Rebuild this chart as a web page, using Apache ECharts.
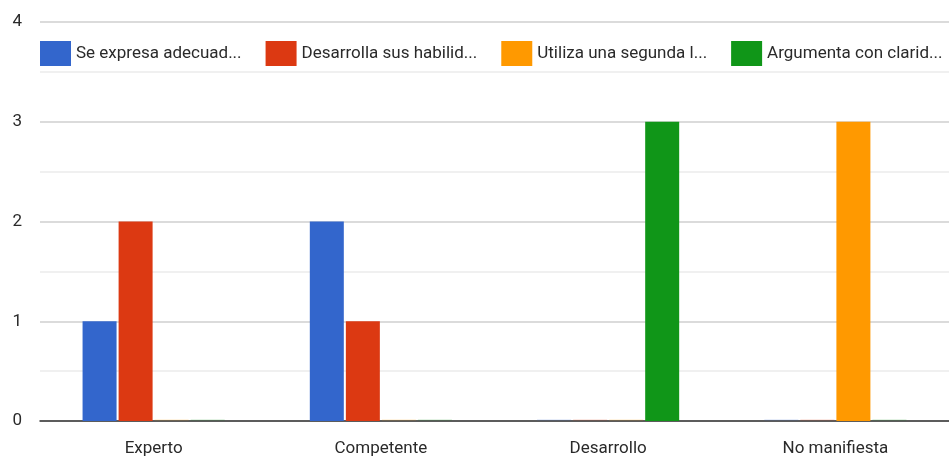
<!DOCTYPE html>
<html>
<head>
<meta charset="utf-8">
<script src="https://cdn.jsdelivr.net/npm/echarts@6/dist/echarts.min.js"></script>
<style>
html,body{margin:0;padding:0;background:#fff;}
#chart{width:949px;height:461px;}
</style>
</head>
<body>
<div id="chart"></div>
<script>
const categories = ['Experto', 'Competente', 'Desarrollo', 'No manifiesta'];
const seriesNames = ['Se expresa adecuad...', 'Desarrolla sus habilid...', 'Utiliza una segunda l...', 'Argumenta con clarid...'];
const seExpresa = [1, 2, 0, 0];
const desarrolla = [2, 1, 0, 0];
const utiliza = [0, 0, 0, 3];
const argumenta = [0, 0, 3, 0];
const colors = ['#3366cc', '#dc3912', '#ff9900', '#109618'];
const yTicks = [0, 1, 2, 3, 4];

const ordered = [seExpresa, desarrolla, utiliza, argumenta];

const chart = echarts.init(document.getElementById('chart'), null, {renderer: 'canvas'});
const font = 'Roboto, sans-serif';
chart.setOption({
  animation: false,
  color: colors,
  textStyle: {fontFamily: font},
  legend: {
    left: 35,
    top: 36,
    width: 910,
    itemWidth: 31,
    itemHeight: 25,
    itemGap: 24,
    icon: 'rect',
    textStyle: {fontSize: 17, color: '#2a2a2a', fontFamily: font},
    data: seriesNames
  },
  grid: {left: 40, right: -8, top: 22, bottom: 40, containLabel: false},
  xAxis: {
    type: 'category',
    data: categories,
    axisTick: {show: false},
    axisLine: {lineStyle: {color: '#333', width: 1.5}},
    axisLabel: {fontSize: 17, color: '#2a2a2a', margin: 19, fontFamily: font}
  },
  yAxis: {
    type: 'value',
    min: yTicks[0],
    max: yTicks[yTicks.length - 1],
    interval: 1,
    axisLabel: {fontSize: 17, color: '#2a2a2a', margin: 18, fontFamily: font},
    axisLine: {show: false},
    axisTick: {show: false},
    splitLine: {lineStyle: {color: '#cfcfcf', width: 1.5}},
    minorTick: {show: false, splitNumber: 2},
    minorSplitLine: {show: true, lineStyle: {color: '#ebebeb', width: 1.5}}
  },
  series: seriesNames.map((n, i) => ({
    name: n,
    type: 'bar',
    data: ordered[i].map(v => v === 0 ? {value: v, itemStyle: {opacity: 0.12}} : v),
    barWidth: 34,
    barGap: '6%',
    barMinHeight: 2,
    itemStyle: {color: colors[i]}
  }))
});
</script>
</body>
</html>
